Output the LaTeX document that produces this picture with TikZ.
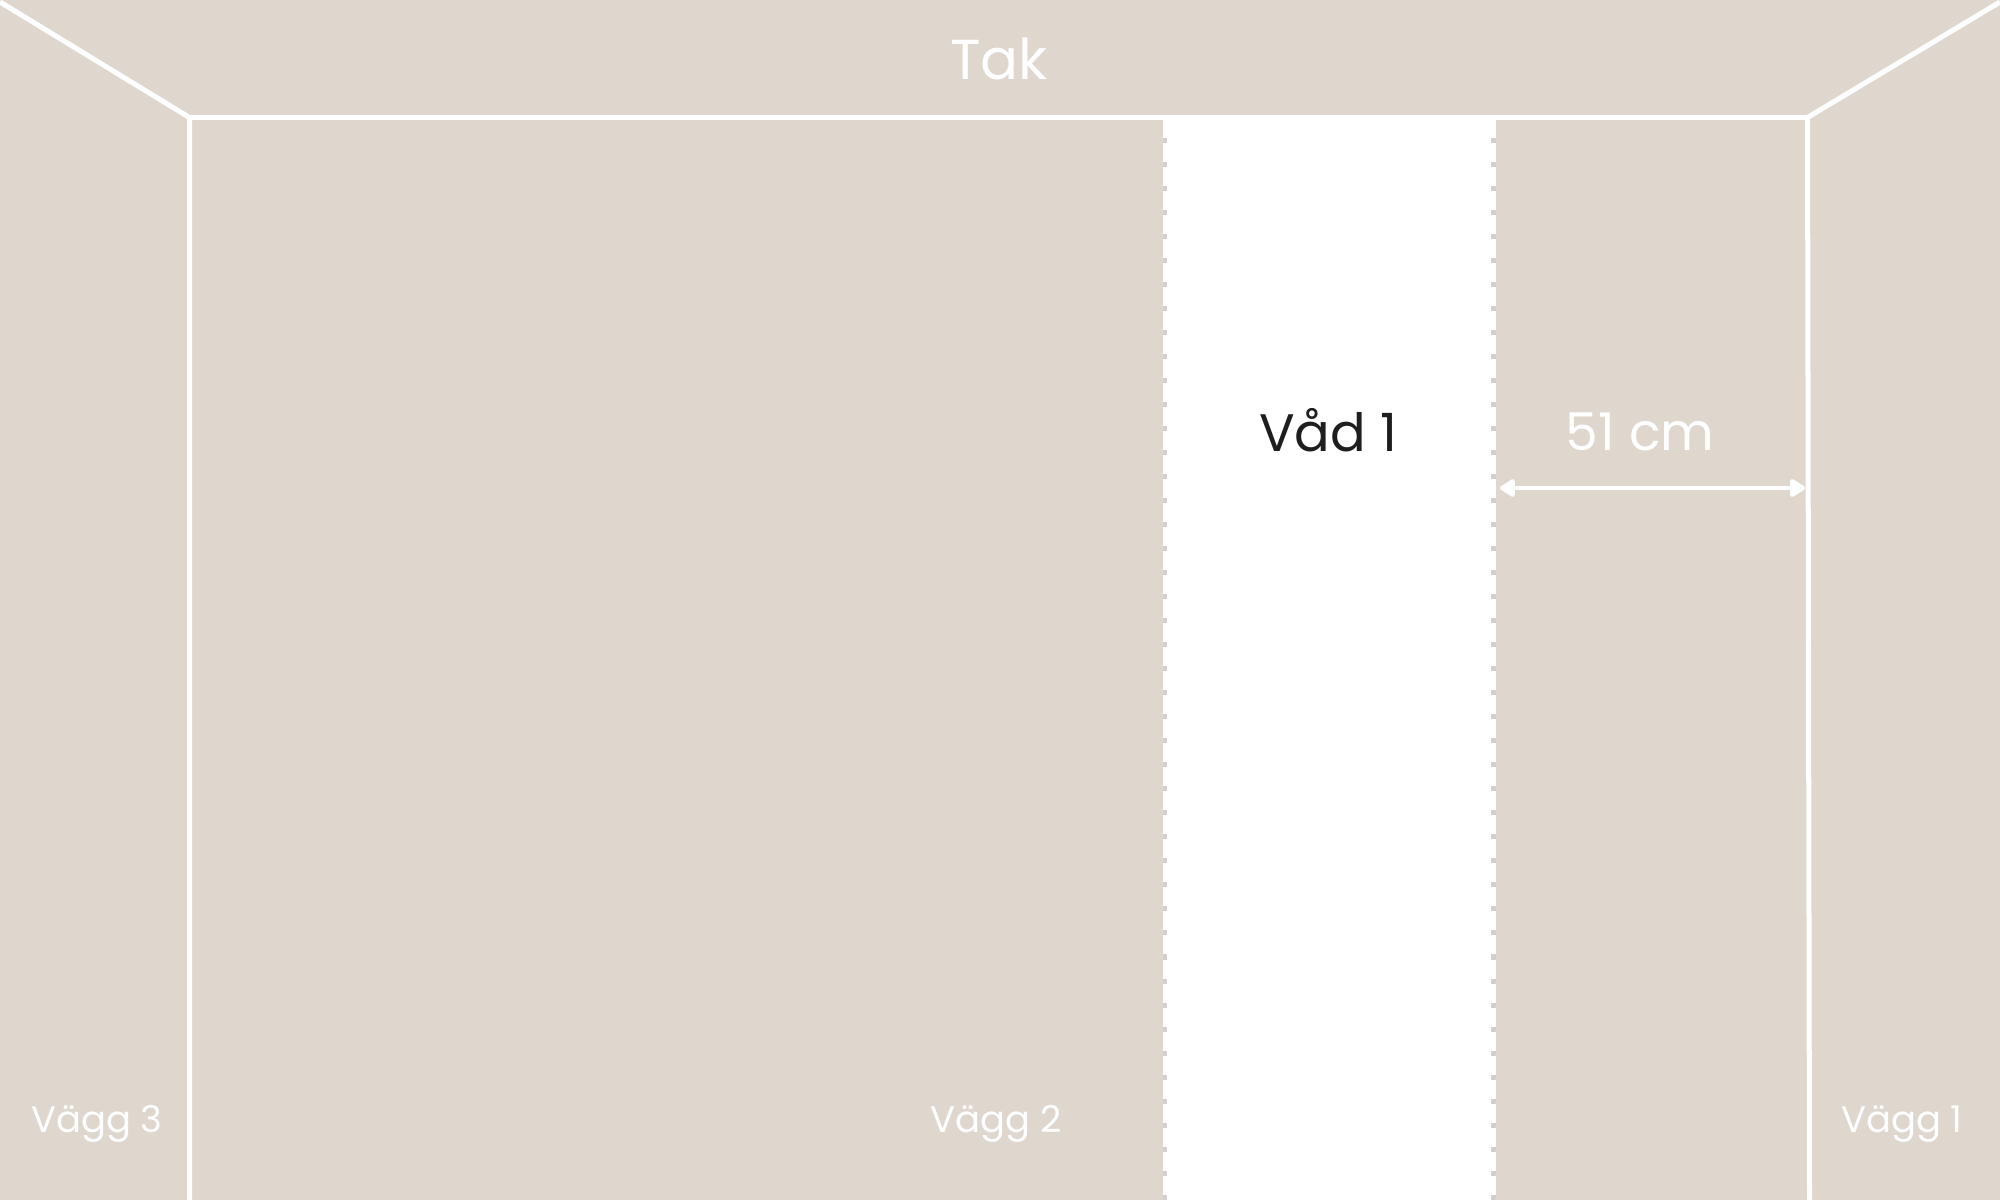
\documentclass[tikz,border=0pt]{standalone}
\usepackage{fontspec}
\setmainfont{Poppins}
\usetikzlibrary{arrows.meta}
\definecolor{wall}{RGB}{223,215,206}
\definecolor{tick}{RGB}{212,207,202}
\definecolor{dark}{RGB}{30,30,30}
\tikzset{
  edge/.style={draw=white, line width=0.05cm, line cap=butt, line join=miter},
  seam/.style={draw=tick, line width=0.045cm, dash pattern=on 0.05cm off 0.19cm},
  walllabel/.style={text=white, font=\fontsize{10.5}{12}\selectfont, inner sep=0pt, anchor=base},
  biglabel/.style={text=white, font=\fontsize{16}{19}\selectfont, inner sep=0pt, anchor=base},
  dim/.style={draw=white, line width=0.045cm, {Triangle[length=0.17cm,width=0.2cm,round]}-{Triangle[length=0.17cm,width=0.2cm,round]}}
}
\begin{document}
\begin{tikzpicture}[x=0.01cm,y=-0.01cm]
\useasboundingbox (0,0) rectangle (2000,1200);
\fill[wall] (0,0) rectangle (2000,1200);
% strip (Våd 1)
\fill[white] (1163,118) rectangle (1496,1200);
\draw[seam] (1165,138) -- (1165,1200);
\draw[seam] (1493.5,138) -- (1493.5,1200);
% corner coordinates
\coordinate (tl) at (189.5,117.5);
\coordinate (tr) at (1807.5,117.5);
\coordinate (bl) at (189.5,1200);
\coordinate (br) at (1809.5,1200);
\coordinate (ctl) at (0,2);
\coordinate (ctr) at (2000,2);
\draw[edge] (ctl) -- (tl) -- (bl);
\draw[edge] (ctr) -- (tr) -- (br);
\draw[edge] (tl) -- (tr);
% dimension
\coordinate (da) at (1500,488);
\coordinate (db) at (1805,488);
\draw[dim] (da) -- (db);
% labels
\node[biglabel] (tak) at (999,79) {Tak};
\node[text=dark, font=\fontsize{15}{18}\selectfont, inner sep=0pt, anchor=base] (vad) at (1328,451) {Våd 1};
\node[biglabel, font=\fontsize{14.8}{18}\selectfont] (cm) at (1640,450) {51 cm};
\node[walllabel] (v3) at (97,1132) {Vägg 3};
\node[walllabel] (v2) at (996,1132) {Vägg 2};
\node[walllabel] (v1) at (1902,1132) {Vägg 1};
\end{tikzpicture}
\end{document}
